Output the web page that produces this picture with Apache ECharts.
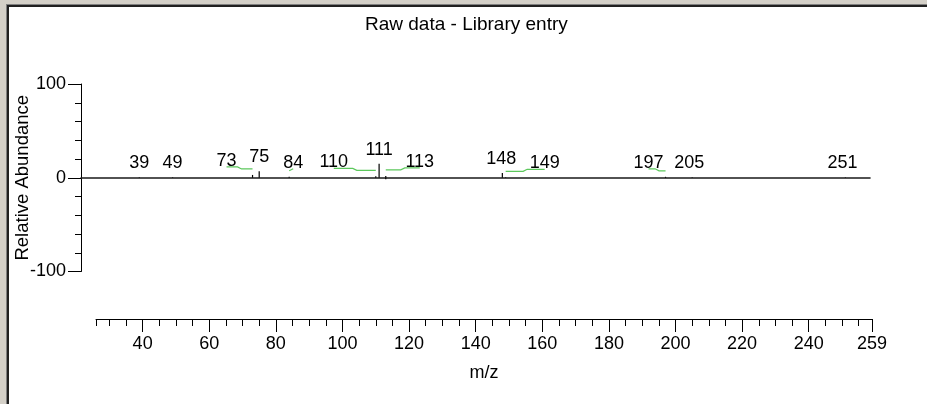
<!DOCTYPE html>
<html>
<head>
<meta charset="utf-8">
<title>Raw data - Library entry</title>
<script src="https://cdn.jsdelivr.net/npm/echarts@6/dist/echarts.min.js"></script>
<style>
  html, body {
    margin: 0;
    padding: 0;
    width: 927px;
    height: 404px;
    overflow: hidden;
    background: #d4d0c8;
  }
  /* sunken window panel */
  .panel {
    position: absolute;
    left: 6px;
    top: 4px;
    right: 0;
    bottom: 0;
    border-left: 1px solid #808080;
    border-top: 1px solid #808080;
  }
  .panel .inner {
    position: absolute;
    inset: 0;
    border-left: 2px solid #202020;
    border-top: 2px solid #202020;
    background: #ffffff;
  }
  #chart {
    position: absolute;
    left: 0;
    top: 0;
    width: 927px;
    height: 404px;
  }
</style>
</head>
<body>
<div class="panel"><div class="inner"></div></div>
<div id="chart"></div>

<script>
// peak m/z values and labels
const mzValues = [39, 49, 73, 75, 84, 110, 111, 113, 148, 149, 197, 205, 251];
const peakLabels = ['39', '49', '73', '75', '84', '110', '111', '113', '148', '149', '197', '205', '251'];
// relative abundance, raw data (up) and library entry (down)
const rawAbundance = [0.5, 0.5, 3, 7, 1, 1.5, 15, 2, 5, 0.5, 1, 0.5, 0.5];
const libraryAbundance = [0, 0, 0, 0, 0, 0, 0, -1.5, 0, 0, 0, 0, 0];

// axis ticks
const yTicks = [-100, 0, 100];
const xMajorTicks = [40, 60, 80, 100, 120, 140, 160, 180, 200, 220, 240, 259];
const xMin = 26;
const xMax = 259;
const xMinorTicks = [26];
for (let v = 30; v < xMax; v += 5) {
  if (v % 20 !== 0) xMinorTicks.push(v);
}

// label shift (px) used to keep labels apart, with a green leader line
const labelShift = [0, 0, -26, 0, 4, -42, 0, 34, -1, 39, -17, -3, -3];

const FONT = '"Liberation Sans", Arial, sans-serif';

const chart = echarts.init(document.getElementById('chart'));

chart.setOption({
  animation: false,
  backgroundColor: 'transparent',
  textStyle: { fontFamily: FONT },
  title: {
    text: 'Raw data - Library entry',
    left: 365,
    top: 15,
    padding: 0,
    textStyle: {
      color: '#000',
      fontSize: 19,
      fontWeight: 'normal',
      fontFamily: FONT
    }
  },
  grid: [
    { left: 81, right: 57, top: 84, bottom: 132.5, outerBoundsMode: 'none' },
    { left: 96, right: 55, top: 300, bottom: 85, outerBoundsMode: 'none' }
  ],
  xAxis: [
    {
      // data axis, only its line is shown (sits on y = 0)
      type: 'value',
      gridIndex: 0,
      min: xMin - 15 / 3.332,
      max: xMin + 774.3 / 3.332,
      axisLine: { onZero: true, lineStyle: { color: '#1a1a1a', width: 1.6 } },
      axisTick: { show: false },
      axisLabel: { show: false },
      splitLine: { show: false }
    },
    {
      type: 'value',
      gridIndex: 1,
      position: 'bottom',
      min: xMin,
      max: xMax,
      name: 'm/z',
      nameLocation: 'middle',
      nameGap: 45,
      nameMoveOverlap: false,
      nameTextStyle: { color: '#000', fontSize: 18, fontFamily: FONT },
      axisLine: { onZero: false, lineStyle: { color: '#000', width: 1 } },
      axisTick: {
        customValues: xMajorTicks,
        length: 13,
        lineStyle: { color: '#000', width: 1 }
      },
      axisLabel: {
        customValues: xMajorTicks,
        margin: 16,
        color: '#000',
        fontSize: 18,
        fontFamily: FONT
      },
      splitLine: { show: false }
    },
    {
      // minor ticks of the m/z axis
      type: 'value',
      gridIndex: 1,
      position: 'bottom',
      min: xMin,
      max: xMax,
      axisLine: { show: false, onZero: false },
      axisTick: {
        customValues: xMinorTicks,
        length: 7,
        lineStyle: { color: '#000', width: 1 }
      },
      axisLabel: { show: false },
      splitLine: { show: false }
    }
  ],
  yAxis: [
    {
      type: 'value',
      gridIndex: 0,
      min: -100,
      max: 100,
      interval: 100,
      name: 'Relative Abundance',
      nameLocation: 'middle',
      nameGap: 49,
      nameMoveOverlap: false,
      nameTextStyle: { color: '#000', fontSize: 18.5, fontFamily: FONT },
      axisLine: { show: true, lineStyle: { color: '#000', width: 1 } },
      axisTick: { show: true, length: 13, lineStyle: { color: '#000', width: 1 } },
      minorTick: { show: true, splitNumber: 5, length: 6, lineStyle: { color: '#000', width: 1 } },
      axisLabel: {
        customValues: yTicks,
        margin: 15,
        color: '#000',
        fontSize: 18,
        fontFamily: FONT
      },
      splitLine: { show: false },
      minorSplitLine: { show: false }
    },
    { type: 'value', gridIndex: 1, min: 0, max: 1, show: false }
  ],
  series: [
    {
      type: 'custom',
      xAxisIndex: 0,
      yAxisIndex: 0,
      clip: false,
      data: mzValues.map((mz, i) => [mz, rawAbundance[i], libraryAbundance[i]]),
      renderItem: (params, api) => {
        const i = params.dataIndex;
        const mz = api.value(0);
        const base = api.coord([mz, 0]);
        const top = api.coord([mz, api.value(1)]);
        const bottom = api.coord([mz, api.value(2)]);
        const px = base[0];
        const lx = px + labelShift[i];
        const labelY = top[1] - 14;
        const children = [
          {
            type: 'line',
            shape: { x1: px, y1: base[1], x2: px, y2: top[1] },
            style: { stroke: '#000', lineWidth: 1.2 }
          },
          {
            type: 'line',
            shape: { x1: px, y1: base[1], x2: px, y2: bottom[1] },
            style: { stroke: '#000', lineWidth: 1.2 }
          },
          {
            type: 'text',
            style: {
              x: lx,
              y: labelY,
              text: peakLabels[i],
              fill: '#000',
              font: '18px ' + FONT,
              align: 'center',
              verticalAlign: 'middle'
            }
          }
        ];
        if (Math.abs(labelShift[i]) >= 4) {
          // leader from under the label to the peak
          const a = [lx, labelY + 6];
          const b = [px, top[1] - 6];
          const p1 = a[0] < b[0] ? a : b;
          const p2 = a[0] < b[0] ? b : a;
          const mid = (p1[0] + p2[0]) / 2;
          children.push({
            type: 'polyline',
            shape: { points: [p1, [mid - 2, p1[1]], [mid + 2, p2[1]], p2] },
            style: { stroke: '#5cc85c', lineWidth: 1.2, fill: null }
          });
        }
        return { type: 'group', children };
      }
    }
  ]
});
</script>
</body>
</html>
